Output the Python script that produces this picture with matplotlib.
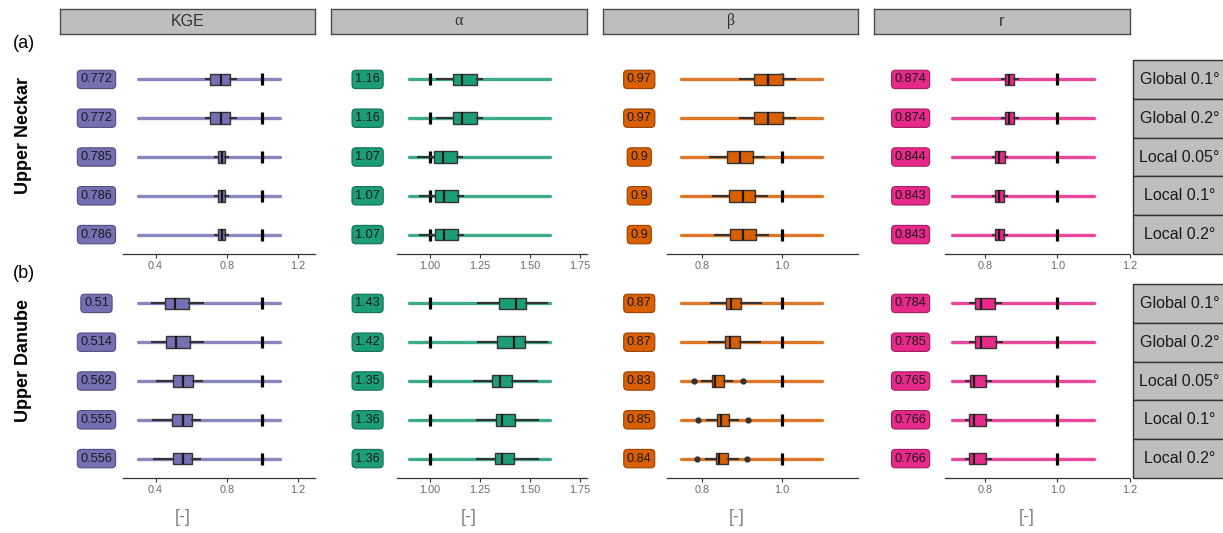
import numpy as np
import matplotlib.pyplot as plt
from matplotlib.patches import Rectangle
from matplotlib.transforms import blended_transform_factory

plt.rcParams['font.family'] = ['Liberation Sans', 'DejaVu Sans']

# --- dados ---
metricas = ["KGE", "α", "β", "r"]
bacias = ["Upper Neckar", "Upper Danube"]
cenarios = ["Global 0.1°", "Global 0.2°", "Local 0.05°", "Local 0.1°", "Local 0.2°"]
cores = ["#7570B3", "#1B9E77", "#D95F02", "#E7298A"]

# faixa colorida (min, max) de cada metrica
faixa_kge = (0.30, 1.10)
faixa_alpha = (0.895, 1.60)
faixa_beta = (0.747, 1.10)
faixa_r = (0.71, 1.10)

# ticks do eixo x
ticks_kge = [0.4, 0.8, 1.2]
ticks_alpha = [1.00, 1.25, 1.50, 1.75]
ticks_beta = [0.8, 1.0]
ticks_r = [0.8, 1.0, 1.2]
fmt_ticks = ["{:.1f}", "{:.2f}", "{:.1f}", "{:.1f}"]

# rotulos (valores nas caixinhas)
kge_neckar_lab = ["0.772", "0.772", "0.785", "0.786", "0.786"]
kge_danube_lab = ["0.51", "0.514", "0.562", "0.555", "0.556"]
alpha_neckar_lab = ["1.16", "1.16", "1.07", "1.07", "1.07"]
alpha_danube_lab = ["1.43", "1.42", "1.35", "1.36", "1.36"]
beta_neckar_lab = ["0.97", "0.97", "0.9", "0.9", "0.9"]
beta_danube_lab = ["0.87", "0.87", "0.83", "0.85", "0.84"]
r_neckar_lab = ["0.874", "0.874", "0.844", "0.843", "0.843"]
r_danube_lab = ["0.784", "0.785", "0.765", "0.766", "0.766"]

# boxplots: (whis_lo, q1, mediana, q3, whis_hi)
kge_neckar = [(0.685, 0.708, 0.768, 0.818, 0.850),
              (0.685, 0.708, 0.768, 0.818, 0.850),
              (0.735, 0.752, 0.775, 0.788, 0.810),
              (0.735, 0.752, 0.776, 0.792, 0.810),
              (0.735, 0.752, 0.776, 0.792, 0.810)]
kge_danube = [(0.379, 0.453, 0.510, 0.588, 0.669),
              (0.379, 0.457, 0.513, 0.593, 0.669),
              (0.407, 0.497, 0.556, 0.609, 0.660),
              (0.388, 0.494, 0.553, 0.603, 0.650),
              (0.390, 0.497, 0.553, 0.603, 0.650)]
alpha_neckar = [(1.033, 1.117, 1.160, 1.233, 1.258),
                (1.033, 1.117, 1.160, 1.233, 1.258),
                (0.940, 1.020, 1.067, 1.135, 1.160),
                (0.950, 1.025, 1.070, 1.138, 1.167),
                (0.950, 1.025, 1.070, 1.138, 1.167)]
alpha_danube = [(1.240, 1.345, 1.430, 1.478, 1.583),
                (1.240, 1.337, 1.420, 1.475, 1.583),
                (1.220, 1.308, 1.350, 1.412, 1.533),
                (1.237, 1.328, 1.360, 1.425, 1.540),
                (1.237, 1.323, 1.360, 1.420, 1.540)]
beta_neckar = [(0.895, 0.930, 0.966, 1.003, 1.0325),
               (0.895, 0.930, 0.966, 1.003, 1.0325),
               (0.820, 0.862, 0.895, 0.927, 0.956),
               (0.828, 0.868, 0.902, 0.9325, 0.962),
               (0.8325, 0.870, 0.903, 0.934, 0.964)]
beta_danube = [(0.8225, 0.859, 0.8725, 0.897, 0.947),
               (0.818, 0.8575, 0.870, 0.895, 0.945),
               (0.799, 0.824, 0.8325, 0.856, 0.874),
               (0.812, 0.837, 0.847, 0.868, 0.891),
               (0.810, 0.835, 0.843, 0.866, 0.890)]
r_neckar = [(0.848, 0.856, 0.867, 0.881, 0.892),
            (0.848, 0.856, 0.867, 0.881, 0.892),
            (0.822, 0.829, 0.840, 0.855, 0.862),
            (0.822, 0.828, 0.840, 0.854, 0.862),
            (0.822, 0.828, 0.840, 0.854, 0.862)]
r_danube = [(0.758, 0.773, 0.790, 0.829, 0.844),
            (0.758, 0.773, 0.790, 0.831, 0.846),
            (0.747, 0.758, 0.771, 0.803, 0.817),
            (0.747, 0.756, 0.771, 0.803, 0.817),
            (0.747, 0.756, 0.771, 0.803, 0.817)]

# outliers (so aparecem no beta do Danube)
beta_danube_fliers = [[], [], [0.780, 0.902], [0.791, 0.914], [0.788, 0.912]]

valor_ideal = 1.0

# --- montagem ---
faixas = [faixa_kge, faixa_alpha, faixa_beta, faixa_r]
ticks = [ticks_kge, ticks_alpha, ticks_beta, ticks_r]
rotulos = [[kge_neckar_lab, kge_danube_lab], [alpha_neckar_lab, alpha_danube_lab],
           [beta_neckar_lab, beta_danube_lab], [r_neckar_lab, r_danube_lab]]
caixas = [[kge_neckar, kge_danube], [alpha_neckar, alpha_danube],
          [beta_neckar, beta_danube], [r_neckar, r_danube]]
sem_out = [[] for _ in cenarios]
outliers = [[sem_out, sem_out], [sem_out, sem_out],
            [sem_out, beta_danube_fliers], [sem_out, sem_out]]

# layout em pixels
W, H = 1223, 533
col_x = [(60, 315), (331, 587), (602.7, 858.3), (874, 1130)]
lin_y = [(60, 254), (284, 478)]
xlims = [(-0.1365, 1.296), (0.505, 1.785), (0.552, 1.191), (0.4945, 1.196)]
eixo_ini = [0.2174, 0.835, 0.7125, 0.689]
xlabel_x = [183, 469, 737, 1027]

fig = plt.figure(figsize=(12.23, 5.33), dpi=100)


def eixo_px(x0, y0, x1, y1):
    return fig.add_axes([x0 / W, 1 - y1 / H, (x1 - x0) / W, (y1 - y0) / H])


def escurecer(cor, f=0.7):
    rgb = np.array(plt.matplotlib.colors.to_rgb(cor))
    return tuple(rgb * f)


pos = np.arange(len(cenarios))

for c, nome in enumerate(metricas):
    cor = cores[c]
    # strip do topo
    st = eixo_px(col_x[c][0], 8.5, col_x[c][1], 34)
    st.set_facecolor('#BEBEBE')
    st.set_xticks([])
    st.set_yticks([])
    for s in st.spines.values():
        s.set_color('#4d4d4d')
        s.set_linewidth(1.0)
    fam = ['Liberation Serif', 'DejaVu Serif'] if nome in ("α", "β") else None
    st.text(0.5, 0.5, nome, ha='center', va='center', fontsize=11.5,
            color='#333333', family=fam, transform=st.transAxes)

    for b in range(2):
        ax = eixo_px(col_x[c][0], lin_y[b][0], col_x[c][1], lin_y[b][1])
        ax.set_xlim(*xlims[c])
        ax.set_ylim(len(cenarios) - 0.5, -0.5)
        for lado in ['top', 'right', 'left']:
            ax.spines[lado].set_visible(False)
        ax.spines['bottom'].set_bounds(eixo_ini[c], xlims[c][1])
        ax.spines['bottom'].set_color('#333333')
        ax.spines['bottom'].set_linewidth(0.9)
        ax.set_yticks([])
        ax.set_xticks(ticks[c])
        ax.set_xticklabels([fmt_ticks[c].format(t) for t in ticks[c]])
        ax.tick_params(axis='x', length=3, width=0.8, color='#333333',
                       labelcolor='#6b6b6b', labelsize=7.8, pad=2)
        ax.patch.set_alpha(0)

        # faixa colorida
        lc = ax.hlines(pos, faixas[c][0], faixas[c][1], color=cor, lw=2.4,
                       alpha=0.85, zorder=1)
        lc.set_capstyle('round')

        # valor ideal
        ax.plot([valor_ideal] * len(pos), pos, linestyle='none', marker='|',
                ms=8.5, mew=2.3, color='black', zorder=2)

        # boxplots
        stats = []
        for i, (wl, q1, md, q3, wh) in enumerate(caixas[c][b]):
            stats.append(dict(med=md, q1=q1, q3=q3, whislo=wl, whishi=wh,
                              fliers=outliers[c][b][i]))
        ax.bxp(stats, positions=pos, widths=0.3, orientation='horizontal',
               patch_artist=True, showcaps=False, zorder=3,
               boxprops=dict(facecolor=cor, edgecolor='#333333', linewidth=1.0),
               medianprops=dict(color='#1a1a1a', linewidth=1.6),
               whiskerprops=dict(color='#333333', linewidth=1.5),
               flierprops=dict(marker='o', markersize=3.5, markerfacecolor='#333333',
                               markeredgecolor='#333333'))

        # caixinhas com o valor
        trans = blended_transform_factory(ax.transAxes, ax.transData)
        for i, txt in enumerate(rotulos[c][b]):
            ax.text(0.143, pos[i], txt, transform=trans, ha='center', va='center',
                    fontsize=9.2, color='#1a1a1a', zorder=5, clip_on=False,
                    bbox=dict(boxstyle='round,pad=0.25,rounding_size=0.3',
                              fc=cor, ec=escurecer(cor), lw=0.8))

        ax.set_yticks([])
        if b == 1:
            fig.text(xlabel_x[c] / W, 1 - 518 / H, "[-]", ha='center', va='center',
                     fontsize=13, color='#808080')

# strips da direita
for b in range(2):
    sa = eixo_px(1133, lin_y[b][0], 1226, lin_y[b][1])
    sa.set_xlim(0, 1)
    sa.set_ylim(len(cenarios) - 0.5, -0.5)
    sa.axis('off')
    for i, s in enumerate(cenarios):
        sa.add_patch(Rectangle((0, i - 0.5), 1, 1, fc='#BEBEBE', ec='#333333',
                               lw=1.0, clip_on=False))
        sa.text(0.5, i, s, ha='center', va='center', fontsize=11.5, color='#1a1a1a')

# rotulos das bacias
fig.text(13 / W, 1 - 43 / H, "(a)", ha='left', va='center', fontsize=13)
fig.text(13 / W, 1 - 273 / H, "(b)", ha='left', va='center', fontsize=13)
fig.text(24 / W, 1 - 135 / H, bacias[0], rotation=90, ha='center', va='center',
         fontsize=13, fontweight='bold')
fig.text(24 / W, 1 - 361 / H, bacias[1], rotation=90, ha='center', va='center',
         fontsize=13, fontweight='bold')

fig.savefig('out.png', dpi=100, facecolor='white')
